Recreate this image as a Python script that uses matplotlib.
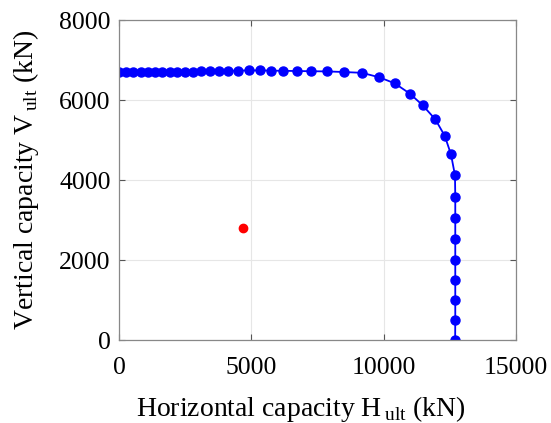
import numpy as np
import matplotlib.pyplot as plt

plt.rcParams['font.family'] = 'Liberation Serif'
plt.rcParams['mathtext.fontset'] = 'custom'
plt.rcParams['mathtext.rm'] = 'Liberation Serif'

# failure envelope (kN)
H_env = [0, 264, 541, 820, 1084, 1360, 1636, 1915, 2191, 2482, 2796, 3109,
         3438, 3766, 4106, 4484, 4900, 5315, 5754, 6207, 6725, 7254, 7858,
         8500, 9180, 9834, 10416, 10994, 11474, 11950, 12305, 12543, 12694,
         12705, 12705, 12705, 12705, 12705, 12705, 12705, 12700]
V_env = [6705, 6705, 6705, 6705, 6705, 6705, 6705, 6705, 6705, 6710, 6710,
         6715, 6720, 6725, 6730, 6735, 6740, 6740, 6735, 6730, 6725, 6720,
         6715, 6700, 6680, 6568, 6418, 6158, 5868, 5518, 5108, 4643, 4118,
         3580, 3055, 2530, 2010, 1500, 995, 495, 0]

# applied load
H_load = [4670]
V_load = [2800]

fig = plt.figure(figsize=(5.51, 4.23), dpi=100)
ax = fig.add_axes([0.216, 0.196, 0.7205, 0.7567])

ax.plot(H_env, V_env, '-o', color='blue', lw=1.3, ms=6.5)
ax.plot(H_load, V_load, 'o', color='red', ms=6)

ax.set_xlim(0, 15000)
ax.set_ylim(0, 8000)
ax.set_xticks([0, 5000, 10000, 15000])
ax.set_yticks([0, 2000, 4000, 6000, 8000])
ax.grid(True, color='#e6e6e6', lw=0.8)
ax.tick_params(direction='in', top=True, right=True, labelsize=18.5,
               color='#555555', length=4)
ax.tick_params(axis='x', pad=12)
ax.tick_params(axis='y', pad=6)
for s in ax.spines.values():
    s.set_color('#888888')
    s.set_linewidth(0.9)

ax.set_xlabel(r'Horizontal capacity H$_{\,\mathrm{ult}}$ (kN)', fontsize=20,
              labelpad=11, x=0.458)
ax.set_ylabel(r'Vertical capacity V$_{\,\mathrm{ult}}$ (kN)', fontsize=20,
              labelpad=13)

fig.savefig('out.png', dpi=100)
